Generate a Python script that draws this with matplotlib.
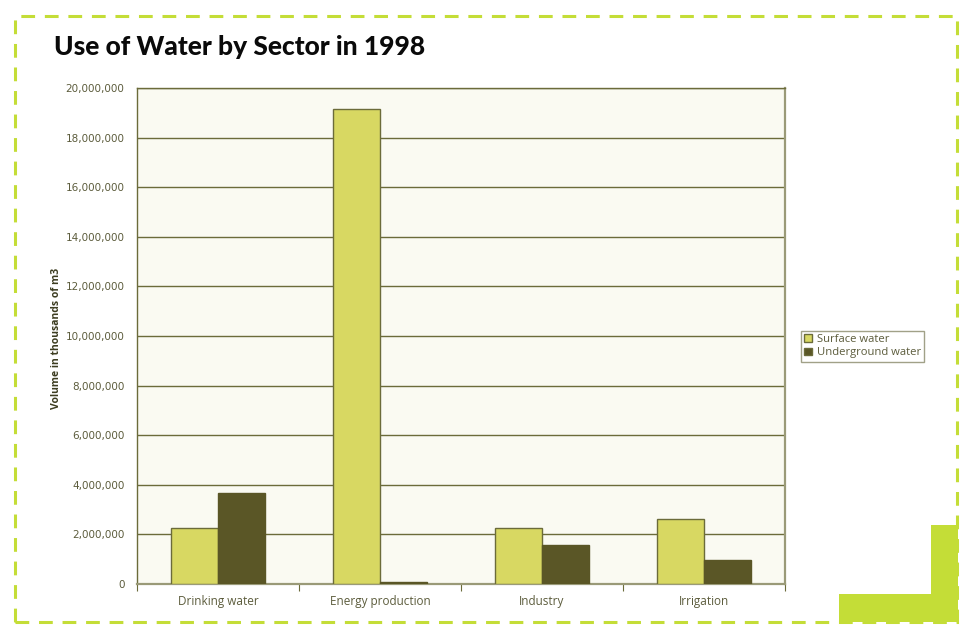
import matplotlib
matplotlib.use("Agg")
import matplotlib.pyplot as plt
import numpy as np
from matplotlib.patches import Rectangle, Polygon

categories = ["Drinking water", "Energy production", "Industry", "Irrigation"]
surface_water = [2260000, 19140000, 2260000, 2610000]
underground_water = [3660000, 70000, 1570000, 970000]
y_ticks = list(range(0, 20000001, 2000000))
series_names = ["Surface water", "Underground water"]

W, H = 962, 630
fig = plt.figure(figsize=(W / 100, H / 100), dpi=100)
fig.patch.set_facecolor("white")

lime = "#c4dd37"
olive_light = "#d8d862"
olive_dark = "#5a5626"
edge = "#6b6b3a"
text_col = "#5c5c3c"

# dashed frame around the whole graphic
frame = Rectangle((15 / W, 1 - 622 / H), (957 - 15) / W, (622 - 16) / H,
                  transform=fig.transFigure, fill=False, edgecolor=lime,
                  linewidth=2.2, linestyle=(0, (4.5, 3.2)), zorder=0)
fig.add_artist(frame)

# solid corner accent
corner = Polygon([(931 / W, 1 - 525 / H), (958 / W, 1 - 525 / H),
                  (958 / W, 1 - 622 / H), (839 / W, 1 - 622 / H),
                  (839 / W, 1 - 594 / H), (931 / W, 1 - 594 / H)],
                 closed=True, transform=fig.transFigure,
                 facecolor=lime, edgecolor="none", zorder=1)
fig.add_artist(corner)

fig.text(54 / W, 1 - 47 / H, "Use of Water by Sector in 1998",
         fontsize=19, fontweight="black", family="Lato",
         color="#0a0a0a", va="center", ha="left")

ax = fig.add_axes([137 / W, 1 - 584 / H, (785 - 137) / W, (584 - 88) / H])
ax.set_facecolor("#fafaf2")

x = np.arange(len(categories))
bw = 0.29
ax.bar(x - bw / 2, surface_water, bw, color=olive_light, edgecolor=edge,
       linewidth=1.0, label=series_names[0], zorder=3)
ax.bar(x + bw / 2, underground_water, bw, color=olive_dark, edgecolor=olive_dark,
       linewidth=1.0, label=series_names[1], zorder=3)

ax.set_xlim(-0.5, len(categories) - 0.5)
ax.set_ylim(0, 20000000)
ax.set_yticks(y_ticks)
ax.set_yticklabels([f"{v:,}" for v in y_ticks], fontsize=7.5,
                   family="DejaVu Sans", color=text_col)
ax.yaxis.grid(True, color=edge, linewidth=1.0, zorder=1)
ax.set_axisbelow(True)

ax.set_xticks(np.arange(len(categories) + 1) - 0.5, minor=False)
ax.set_xticklabels([])
ax.set_xticks(x, minor=True)
ax.set_xticklabels(categories, minor=True, fontsize=8.5, family="Open Sans",
                   color=text_col)
ax.tick_params(axis="x", which="minor", length=0, pad=8)
ax.tick_params(axis="x", which="major", length=5, color=edge, direction="out")
ax.tick_params(axis="y", length=0, pad=9)

for s in ax.spines.values():
    s.set_color(edge)
    s.set_linewidth(1.0)
ax.spines["bottom"].set_color("#9a9a78")
ax.spines["right"].set_color("#9a9a78")
ax.spines["right"].set_linewidth(1.6)
ax.spines["bottom"].set_linewidth(1.6)

fig.text(57 / W, 1 - 338 / H, "Volume in thousands of m3", rotation=90,
         fontsize=7.5, fontweight="bold", family="Open Sans", color="#3c3c20",
         ha="center", va="center")

leg = fig.legend(loc="upper left", bbox_to_anchor=(801 / W, 1 - 331 / H),
                 frameon=True, fancybox=False, handlelength=0.7,
                 handleheight=0.7, handletextpad=0.4, borderpad=0.28,
                 labelspacing=0.2, borderaxespad=0,
                 prop={"family": "Open Sans", "size": 8.1})
leg.get_frame().set_edgecolor("#8a8a6a")
leg.get_frame().set_linewidth(1.0)
for t in leg.get_texts():
    t.set_color(text_col)
for h in leg.legend_handles:
    h.set_edgecolor(edge)

fig.savefig("out.png", dpi=100, facecolor="white")
